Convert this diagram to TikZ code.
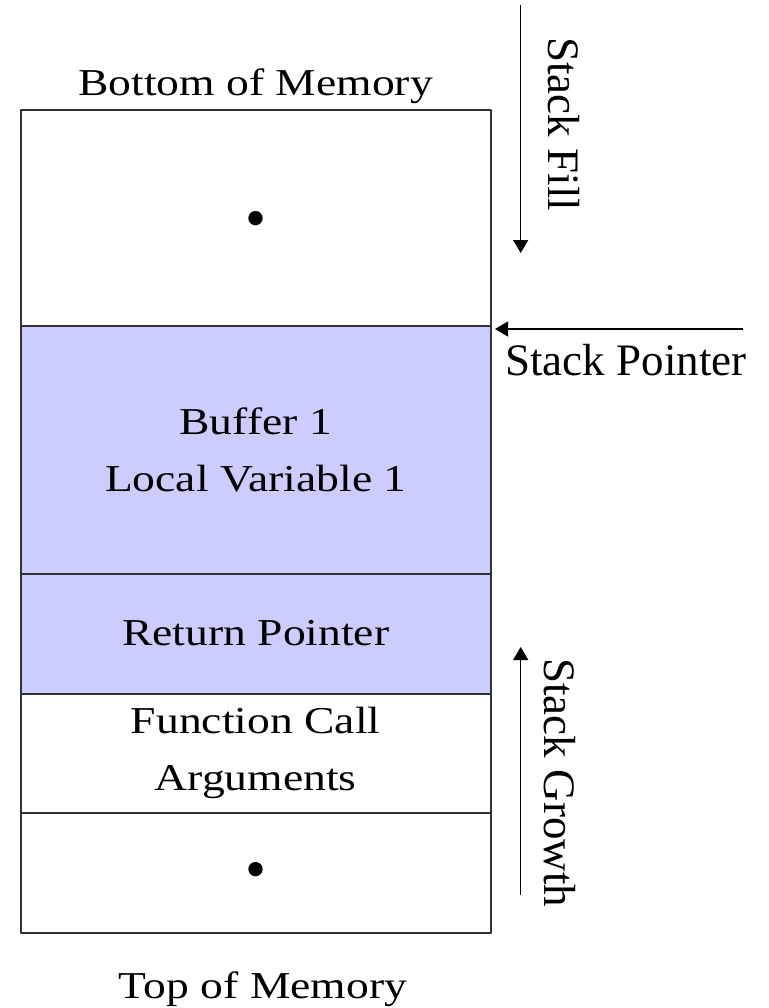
\documentclass[tikz,border=0pt]{standalone}
\usepackage{fontspec}
\setmainfont{Liberation Serif}
\newfontfamily\widefont{Liberation Serif}[FakeStretch=1.2]
\usetikzlibrary{positioning,arrows.meta}
\definecolor{stackblue}{HTML}{CCCCFF}
\newcommand{\stackdot}[1]{\raisebox{#1}[0pt][0pt]{\rmfamily\fontsize{30}{32}\selectfont\textbullet}}
\tikzset{
	cell/.style={draw=black!80, line width=1pt, outer sep=0pt, inner sep=0pt, minimum width=235.25pt, align=center, font=\widefont\fontsize{19}{28.5}\selectfont},
	used/.style={fill=stackblue},
	endlabel/.style={inner sep=0pt, anchor=base, font=\widefont\fontsize{19}{22}\selectfont},
	side/.style={inner sep=0pt, anchor=base west, font=\fontsize{22.5}{27}\selectfont},
	flow/.style={line width=0.6pt, -{Triangle[length=6.5pt,width=7.5pt]}}
}
\begin{document}
\begin{tikzpicture}[x=0.5pt,y=-0.5pt,line join=round]
	\useasboundingbox (0,0) rectangle (768,1008);
	\node[cell,minimum height=108pt,anchor=north west] (free) at (20.5,110) {\stackdot{-10pt}};
	\node[cell,used,minimum height=123.75pt,below=0pt of free] (buf) {Buffer 1\\Local Variable 1};
	\node[cell,used,minimum height=60pt,below=0pt of buf] (ret) {Return Pointer};
	\node[cell,minimum height=59.5pt,below=0pt of ret] (args) {Function Call\\Arguments};
	\node[cell,minimum height=60pt,below=0pt of args] (rest) {\stackdot{-8.5pt}};
	\node[endlabel] (bottom) at (255.5,95) {Bottom of Memory};
	\node[endlabel] (top) at (263,998) {Top of Memory};
	\node[side] (sp) at (505,375) {Stack Pointer};
	\node[side,rotate=-90] (fill) at (548,37) {Stack Fill};
	\node[side,rotate=-90] (growth) at (544,658) {Stack Growth};
	\coordinate (fillStart) at (520.7,5);
	\coordinate (fillEnd) at (520.7,253);
	\coordinate (spStart) at (743,329);
	\coordinate (growStart) at (520.7,895);
	\coordinate (growEnd) at (520.7,647);
	\draw[flow] (fillStart) -- (fillEnd);
	\draw[flow,shorten >=2pt] (spStart) -- (spStart -| buf.north east);
	\draw[flow] (growStart) -- (growEnd);
\end{tikzpicture}
\end{document}
